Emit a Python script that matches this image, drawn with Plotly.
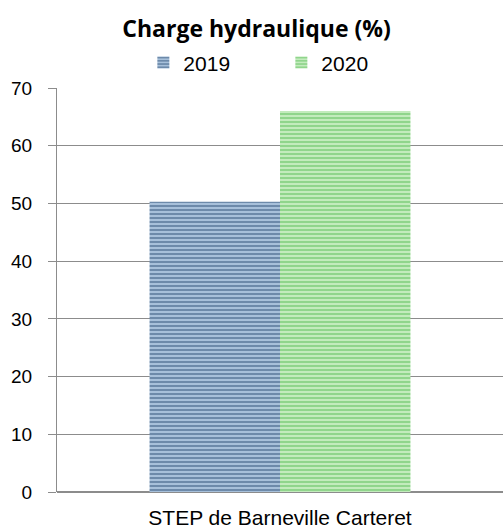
import plotly.graph_objects as go

categories = ["STEP de Barneville Carteret"]
series_names = ["2019", "2020"]
values_2019 = [50.3]
values_2020 = [66.0]
y_ticks = [0, 10, 20, 30, 40, 50, 60, 70]

fig = go.Figure()
fig.add_trace(go.Bar(
    name=series_names[0], x=categories, y=values_2019,
    marker=dict(color="#b6cde6", line=dict(width=0),
                pattern=dict(shape="-", fgcolor="#23476d", bgcolor="#b6cde6",
                             size=4, solidity=0.6, fillmode="overlay")),
))
fig.add_trace(go.Bar(
    name=series_names[1], x=categories, y=values_2020,
    marker=dict(color="#cff1ca", line=dict(width=0),
                pattern=dict(shape="-", fgcolor="#52b94d", bgcolor="#cff1ca",
                             size=4, solidity=0.6, fillmode="overlay")),
))

fig.update_layout(
    width=503, height=532,
    margin=dict(l=57, r=0, t=88, b=40, autoexpand=False),
    paper_bgcolor="white", plot_bgcolor="white",
    font=dict(family="Liberation Sans, Arial, sans-serif", size=19, color="#000"),
    title=dict(text="<b>Charge hydraulique (%)</b>", xref="container", x=0.51,
               xanchor="center", yref="container", y=0.945, yanchor="middle",
               font=dict(family="Open Sans, sans-serif", size=23, color="#000")),
    barmode="group", bargap=0.415, bargroupgap=0,
    showlegend=True,
    legend=dict(orientation="h", xref="container", x=0.285, xanchor="left",
                yref="container", y=0.882, yanchor="middle",
                font=dict(size=21), itemwidth=30, traceorder="normal",
                entrywidth=93, entrywidthmode="pixels",
                tracegroupgap=0, bgcolor="rgba(0,0,0,0)"),
    xaxis=dict(showline=False, ticks="", tickfont=dict(size=21),
               ticklabelstandoff=11),
    yaxis=dict(range=[0, 70], tickvals=y_ticks, showgrid=True, gridcolor="#8c8c8c",
               gridwidth=1, showline=True, linecolor="#8c8c8c", linewidth=1,
               ticks="outside", ticklen=8, tickcolor="#8c8c8c", zeroline=True,
               zerolinecolor="#8c8c8c", tickfont=dict(size=19), ticklabelstandoff=12),
)

fig.write_html("out.html")
